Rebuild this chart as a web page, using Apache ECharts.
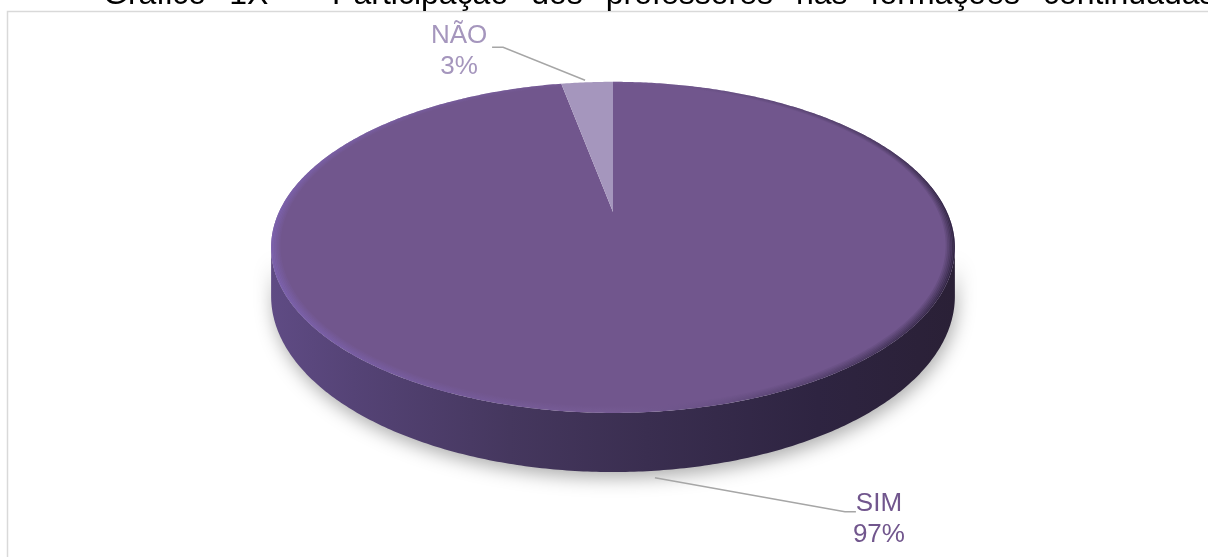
<!DOCTYPE html>
<html>
<head>
<meta charset="utf-8">
<script src="https://cdn.jsdelivr.net/npm/echarts@6/dist/echarts.min.js"></script>
<style>
  html, body { margin: 0; padding: 0; background: #ffffff; }
  #chart { width: 1208px; height: 557px; }
</style>
</head>
<body>
<div id="chart"></div>
<script>
// ---- data ----
const categories = ['SIM', 'NÃO'];
const values = [97, 3];
const titleText = 'Gráfico 1X – Participação dos professores nas formações continuadas';

// ---- styles ----
const FONT = '"Liberation Sans", Arial, sans-serif';
const sliceColors = ['#71568d', '#a596bd'];
const labelColors = ['#71568d', '#a596bd'];
const wallStops = [
  [{ offset: 0, color: '#5f4b84' }, { offset: 0.12, color: '#554376' }, { offset: 0.35, color: '#45375e' },
   { offset: 0.55, color: '#3a2e50' }, { offset: 0.8, color: '#2e2441' }, { offset: 1, color: '#2a2036' }],
  [{ offset: 0, color: '#8a7aa6' }, { offset: 1, color: '#4f4563' }]
];
// rim bevel tint, left (lit) to right (shaded): [r, g, b, alpha]
const rimTint = [
  [0, [126, 100, 180, 0.85]],
  [0.3, [122, 96, 168, 0.45]],
  [0.5, [130, 104, 165, 0.25]],
  [0.72, [70, 54, 95, 0.45]],
  [1, [42, 32, 58, 0.9]]
];

const total = values.reduce((s, v) => s + v, 0);
const starts = [];
let acc = 0;
values.forEach(v => { starts.push(acc); acc += v; });

// tilted disc seen in perspective: centre, radii, perspective factor, thickness
const disc = { cx: 613, cy: 212, a: 334, b: 158, k: 0.2136, h: 46.5 };
function proj(r, ang, depth) {
  const u = r * Math.sin(ang), v = -r * Math.cos(ang);
  const s = 1 / (1 - disc.k * v);
  return [disc.cx + disc.a * u * s, disc.cy + (disc.b * v + depth) * s];
}
function arcPts(r, a0, a1, depth) {
  const n = Math.max(2, Math.ceil(Math.abs(a1 - a0) / 0.01));
  const pts = [];
  for (let i = 0; i <= n; i++) pts.push(proj(r, a0 + (a1 - a0) * i / n, depth));
  return pts;
}
// side wall is visible where the rim faces the viewer
const frontLo = Math.PI / 2 + Math.asin(disc.k);
const frontHi = 3 * Math.PI / 2 - Math.asin(disc.k);

// label placement relative to the leader anchor
const labelLayout = [
  { elbow: [190, 34], end: [201, 34], text: [224, 41.5] },
  { elbow: [-82, -33], end: [-93, -33], text: [-126, -28.5] }
];

function renderItem(params, api) {
  const i = params.dataIndex;
  const val = api.value(0);
  const a0 = starts[i] / total * Math.PI * 2;
  const a1 = (starts[i] + val) / total * Math.PI * 2;
  const children = [];

  // side wall
  const lo = Math.max(a0, frontLo), hi = Math.min(a1, frontHi);
  if (hi > lo) {
    const pts = arcPts(1, lo, hi, 0).concat(arcPts(1, hi, lo, disc.h));
    children.push({
      type: 'polygon', z2: 1,
      shape: { points: pts },
      style: {
        fill: new echarts.graphic.LinearGradient(271, 0, 955, 0, wallStops[i], true),
        shadowBlur: 18, shadowColor: 'rgba(0,0,0,0.32)', shadowOffsetX: 2, shadowOffsetY: 6
      }
    });
  }

  // top face
  const facePts = [[disc.cx, disc.cy]].concat(arcPts(1, a0, a1, 0));
  children.push({
    type: 'polygon', z2: 10,
    shape: { points: facePts },
    style: { fill: sliceColors[i] }
  });

  // soft bevelled rim on the top face, built from fading rings
  if (i === 0) {
    const layers = 6, width = 0.026;
    for (let j = 0; j < layers; j++) {
      const r0 = 1 - width * j / layers, r1 = 1 - width * (j + 1) / layers;
      const fade = 1 - j / layers;
      const stops = rimTint.map(([o, c]) => ({
        offset: o, color: 'rgba(' + c[0] + ',' + c[1] + ',' + c[2] + ',' + (c[3] * fade).toFixed(3) + ')'
      }));
      children.push({
        type: 'polygon', z2: 11 + j,
        shape: { points: arcPts(r0, a0, a1, 0).concat(arcPts(r1, a1, a0, 0)) },
        style: { fill: new echarts.graphic.LinearGradient(271, 0, 955, 0, stops, true) }
      });
    }
  }

  // leader line and label
  const mid = (a0 + a1) / 2;
  const front = -Math.cos(mid) > 0;
  const p = front ? proj(1, mid, disc.h) : proj(1, mid, 0);
  const anchor = front ? [p[0] + 2, p[1] + 7] : [p[0] - 2, p[1] - 2];
  const L = labelLayout[i];
  children.push({
    type: 'polyline', z2: 30,
    shape: { points: [anchor, [anchor[0] + L.elbow[0], anchor[1] + L.elbow[1]], [anchor[0] + L.end[0], anchor[1] + L.end[1]]] },
    style: { stroke: '#a6a6a6', lineWidth: 1.5, fill: null }
  });
  children.push({
    type: 'text', z2: 31,
    style: {
      text: categories[i] + '\n' + Math.round(val / total * 100) + '%',
      x: anchor[0] + L.text[0], y: anchor[1] + L.text[1],
      fill: labelColors[i], fontSize: 26, fontFamily: FONT, lineHeight: 31,
      align: 'center', verticalAlign: 'middle'
    }
  });
  return { type: 'group', children: children };
}

// justified title words
const measureCtx = document.createElement('canvas').getContext('2d');
measureCtx.font = '32px "Liberation Sans"';
const titleWords = titleText.split(' ');
const titleElems = [];
let tx = 103;
titleWords.forEach(w => {
  titleElems.push({
    type: 'text', x: tx, y: -5,
    style: { text: w, fill: '#000000', fontSize: 32, fontFamily: FONT, align: 'left', verticalAlign: 'middle' }
  });
  tx += measureCtx.measureText(w).width + 23;
});

const chart = echarts.init(document.getElementById('chart'), null, { renderer: 'canvas' });
chart.setOption({
  backgroundColor: '#ffffff',
  animation: false,
  graphic: [
    {
      type: 'rect', z: 0,
      shape: { x: 7.5, y: 11.5, width: 1400, height: 700 },
      style: { fill: null, stroke: '#d9d9d9', lineWidth: 1.5 }
    }
  ].concat(titleElems),
  series: [{
    type: 'custom',
    coordinateSystem: 'none',
    silent: true,
    data: values.map((v, i) => ({ name: categories[i], value: [v] })),
    renderItem: renderItem
  }]
});
</script>
</body>
</html>
